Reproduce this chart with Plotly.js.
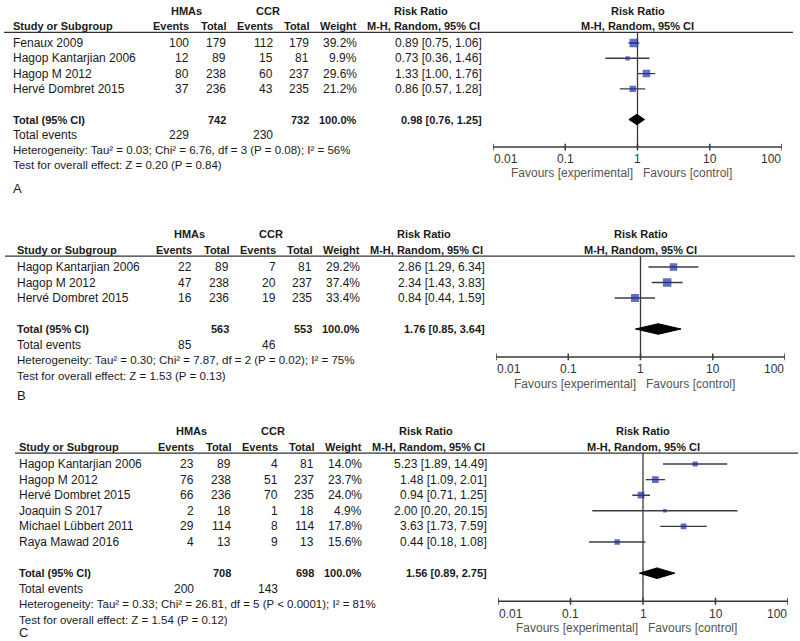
<!DOCTYPE html>
<html><head><meta charset="utf-8">
<script src="https://cdn.plot.ly/plotly-3.0.1.min.js"></script>
<style>html,body{margin:0;padding:0;background:#fff}#chart{width:800px;height:641px}</style>
</head><body><div id="chart"></div>
<script>
// ---------- DATA ----------
const tickValues = [0.01, 0.1, 1, 10, 100];
const tickLabels = ['0.01', '0.1', '1', '10', '100'];

// Panel A
const A_studies   = ['Fenaux 2009', 'Hagop Kantarjian 2006', 'Hagop M 2012', 'Hervé Dombret 2015'];
const A_hmaEvents = [100, 12, 80, 37];
const A_hmaTotal  = [179, 89, 238, 236];
const A_ccrEvents = [112, 15, 60, 43];
const A_ccrTotal  = [179, 81, 237, 235];
const A_weight    = [39.2, 9.9, 29.6, 21.2];
const A_rr        = [0.89, 0.73, 1.33, 0.86];
const A_lo        = [0.75, 0.36, 1.00, 0.57];
const A_hi        = [1.06, 1.46, 1.76, 1.28];
const A_total     = {hmaTotal: 742, ccrTotal: 732, hmaEvents: 229, ccrEvents: 230, rr: 0.98, lo: 0.76, hi: 1.25};
const A_het       = 'Heterogeneity: Tau² = 0.03; Chi² = 6.76, df = 3 (P = 0.08); I² = 56%';
const A_test      = 'Test for overall effect: Z = 0.20 (P = 0.84)';

// Panel B
const B_studies   = ['Hagop Kantarjian 2006', 'Hagop M 2012', 'Hervé Dombret 2015'];
const B_hmaEvents = [22, 47, 16];
const B_hmaTotal  = [89, 238, 236];
const B_ccrEvents = [7, 20, 19];
const B_ccrTotal  = [81, 237, 235];
const B_weight    = [29.2, 37.4, 33.4];
const B_rr        = [2.86, 2.34, 0.84];
const B_lo        = [1.29, 1.43, 0.44];
const B_hi        = [6.34, 3.83, 1.59];
const B_total     = {hmaTotal: 563, ccrTotal: 553, hmaEvents: 85, ccrEvents: 46, rr: 1.76, lo: 0.85, hi: 3.64};
const B_het       = 'Heterogeneity: Tau² = 0.30; Chi² = 7.87, df = 2 (P = 0.02); I² = 75%';
const B_test      = 'Test for overall effect: Z = 1.53 (P = 0.13)';

// Panel C
const C_studies   = ['Hagop Kantarjian 2006', 'Hagop M 2012', 'Hervé Dombret 2015', 'Joaquin S 2017', 'Michael Lübbert 2011', 'Raya Mawad 2016'];
const C_hmaEvents = [23, 76, 66, 2, 29, 4];
const C_hmaTotal  = [89, 238, 236, 18, 114, 13];
const C_ccrEvents = [4, 51, 70, 1, 8, 9];
const C_ccrTotal  = [81, 237, 235, 18, 114, 13];
const C_weight    = [14.0, 23.7, 24.0, 4.9, 17.8, 15.6];
const C_rr        = [5.23, 1.48, 0.94, 2.00, 3.63, 0.44];
const C_lo        = [1.89, 1.09, 0.71, 0.20, 1.73, 0.18];
const C_hi        = [14.49, 2.01, 1.25, 20.15, 7.59, 1.08];
const C_total     = {hmaTotal: 708, ccrTotal: 698, hmaEvents: 200, ccrEvents: 143, rr: 1.56, lo: 0.89, hi: 2.75};
const C_het       = 'Heterogeneity: Tau² = 0.33; Chi² = 26.81, df = 5 (P < 0.0001); I² = 81%';
const C_test      = 'Test for overall effect: Z = 1.54 (P = 0.12)';

// ---------- LAYOUT / DRAWING ----------
const W = 800, H = 641;
const FONT = '"Liberation Sans", Arial, Helvetica, sans-serif';
const TXT = '#1a1a1a';
const BLUE = '#1f30a8';

const panels = [
  {label: 'A', studies: A_studies, he: A_hmaEvents, ht: A_hmaTotal, ce: A_ccrEvents, ct: A_ccrTotal, w: A_weight, rr: A_rr, lo: A_lo, hi: A_hi, tot: A_total, het: A_het, test: A_test,
   g: {y0: 43, s: 15.3, top: -2.8, bot: 10, dx: 0, nx: 12, ax0: 493, ax1: 782, ul0: 4, ul1: 793, lab: 5.5}},
  {label: 'B', studies: B_studies, he: B_hmaEvents, ht: B_hmaTotal, ce: B_ccrEvents, ct: B_ccrTotal, w: B_weight, rr: B_rr, lo: B_lo, hi: B_hi, tot: B_total, het: B_het, test: B_test,
   g: {y0: 267, s: 15.5, top: -3, bot: 9, dx: 3, nx: 16, ax0: 496, ax1: 785, ul0: 5, ul1: 795, lab: 5.3}},
  {label: 'C', studies: C_studies, he: C_hmaEvents, ht: C_hmaTotal, ce: C_ccrEvents, ct: C_ccrTotal, w: C_weight, rr: C_rr, lo: C_lo, hi: C_hi, tot: C_total, het: C_het, test: C_test,
   g: {y0: 464, s: 15.6, top: -3, bot: 11.2, dx: 5, nx: 18, ax0: 498, ax1: 788, ul0: 15, ul1: 798, lab: 4.78}}
];

const traces = [];
const annotations = [];
const shapes = [];
const layout = {
  width: W, height: H,
  margin: {l: 0, r: 0, t: 0, b: 0},
  paper_bgcolor: '#ffffff', plot_bgcolor: 'rgba(0,0,0,0)',
  showlegend: false,
  font: {family: FONT, size: 12, color: TXT},
  annotations: annotations, shapes: shapes
};

function fmt1(v) { return v.toFixed(1) + '%'; }
function fmt2(v) { return v.toFixed(2); }
function ci(r, l, h) { return fmt2(r) + ' [' + fmt2(l) + ', ' + fmt2(h) + ']'; }

panels.forEach((p, k) => {
  const g = p.g;
  const sfx = k === 0 ? '' : String(k + 1);
  const xa = 'x' + sfx, ya = 'y' + sfx;
  const n = p.studies.length;
  const totIdx = n + 1, evIdx = n + 2, hetIdx = n + 3, testIdx = n + 4;
  const axIdx = n + 2.8;
  const dx = g.dx;

  layout['xaxis' + sfx] = {
    domain: [g.ax0 / W, g.ax1 / W], type: 'log', range: [-2, 2], anchor: ya,
    showgrid: false, zeroline: false, showline: false, showticklabels: false, ticks: '', fixedrange: true
  };
  layout['yaxis' + sfx] = {
    domain: [1 - (g.y0 + g.bot * g.s) / H, 1 - (g.y0 + g.top * g.s) / H],
    range: [g.bot, g.top], anchor: xa,
    showgrid: false, zeroline: false, showline: false, showticklabels: false, ticks: '', fixedrange: true
  };

  const px = v => (v + dx) / W;
  function txt(x, y, text, anchor, size, bold, color, xref) {
    annotations.push({
      xref: xref || 'paper', yref: ya, x: x, y: y, text: bold ? '<b>' + text + '</b>' : text,
      showarrow: false, xanchor: anchor, yanchor: 'middle', borderpad: 0,
      font: {family: FONT, size: size, color: color || TXT}
    });
  }

  // headers
  txt(px(186), -2.1, 'HMAs', 'center', 11, true);
  txt(px(268), -2.1, 'CCR', 'center', 11, true);
  txt(px(421), -2.1, 'Risk Ratio', 'center', 11, true);
  txt(g.nx / W, -1.1, 'Study or Subgroup', 'left', 11, true);
  txt(px(190), -1.1, 'Events', 'right', 11, true);
  txt(px(227), -1.1, 'Total', 'right', 11, true);
  txt(px(274), -1.1, 'Events', 'right', 11, true);
  txt(px(310), -1.1, 'Total', 'right', 11, true);
  txt(px(358), -1.1, 'Weight', 'right', 11, true);
  txt(px(423), -1.1, 'M-H, Random, 95% CI', 'center', 11, true);
  txt(0, -2.1, 'Risk Ratio', 'center', 11, true, TXT, xa);
  txt(0, -1.1, 'M-H, Random, 95% CI', 'center', 11, true, TXT, xa);

  // header underline
  shapes.push({type: 'line', xref: 'paper', yref: ya, x0: g.ul0 / W, x1: g.ul1 / W, y0: -0.7, y1: -0.7,
    line: {color: '#333333', width: 1.3}});

  // study rows
  p.studies.forEach((s, i) => {
    txt(g.nx / W, i, s, 'left', 12, false);
    txt(px(190), i, String(p.he[i]), 'right', 12, false);
    txt(px(227), i, String(p.ht[i]), 'right', 12, false);
    txt(px(274), i, String(p.ce[i]), 'right', 12, false);
    txt(px(310), i, String(p.ct[i]), 'right', 12, false);
    txt(px(358), i, fmt1(p.w[i]), 'right', 12, false);
    txt(px(483), i, ci(p.rr[i], p.lo[i], p.hi[i]), 'right', 12, false);
  });

  // total rows
  txt(g.nx / W, totIdx, 'Total (95% CI)', 'left', 11, true);
  txt(px(227), totIdx, String(p.tot.hmaTotal), 'right', 11, true);
  txt(px(310), totIdx, String(p.tot.ccrTotal), 'right', 11, true);
  txt(px(358), totIdx, '100.0%', 'right', 11, true);
  txt(px(483), totIdx, ci(p.tot.rr, p.tot.lo, p.tot.hi), 'right', 11, true);
  txt(g.nx / W, evIdx, 'Total events', 'left', 12, false);
  txt(px(190), evIdx, String(p.tot.hmaEvents), 'right', 12, false);
  txt(px(274), evIdx, String(p.tot.ccrEvents), 'right', 12, false);
  txt(g.nx / W, hetIdx, p.het, 'left', 11.5, false);
  txt(g.nx / W, testIdx, p.test, 'left', 11.5, false);
  txt((g.nx) / W, n + g.lab, p.label, 'left', 13, false);

  // forest: vertical line of no effect
  traces.push({type: 'scatter', mode: 'lines', xaxis: xa, yaxis: ya, x: [1, 1], y: [-0.7, axIdx],
    line: {color: '#3a3a3a', width: 1.3}, hoverinfo: 'skip'});
  // axis line
  traces.push({type: 'scatter', mode: 'lines', xaxis: xa, yaxis: ya,
    x: [tickValues[0], tickValues[tickValues.length - 1]], y: [axIdx, axIdx],
    line: {color: '#3a3a3a', width: 1.5}, hoverinfo: 'skip'});
  // ticks
  const tx = [], ty = [];
  tickValues.forEach(t => { tx.push(t, t, null); ty.push(axIdx - 0.22, axIdx + 0.22, null); });
  traces.push({type: 'scatter', mode: 'lines', xaxis: xa, yaxis: ya, x: tx, y: ty,
    line: {color: '#3a3a3a', width: 1.5}, hoverinfo: 'skip'});
  tickValues.forEach((t, j) => {
    const anc = j === 0 ? 'left' : (j === tickValues.length - 1 ? 'right' : 'center');
    txt(Math.log10(t), axIdx + 0.8, tickLabels[j], anc, 12, false, '#333333', xa);
  });
  // favours
  annotations.push({xref: xa, yref: ya, x: 0, y: axIdx + 1.72, text: 'Favours [experimental]', showarrow: false,
    xanchor: 'right', yanchor: 'middle', xshift: -4, borderpad: 0, font: {family: FONT, size: 12, color: '#555555'}});
  annotations.push({xref: xa, yref: ya, x: 0, y: axIdx + 1.72, text: 'Favours [control]', showarrow: false,
    xanchor: 'left', yanchor: 'middle', xshift: 4, borderpad: 0, font: {family: FONT, size: 12, color: '#555555'}});

  // CI lines
  const cx = [], cy = [];
  p.rr.forEach((r, i) => { cx.push(p.lo[i], p.hi[i], null); cy.push(i, i, null); });
  traces.push({type: 'scatter', mode: 'lines', xaxis: xa, yaxis: ya, x: cx, y: cy,
    line: {color: '#3c3c3c', width: 1.4}, hoverinfo: 'skip'});
  // squares
  traces.push({type: 'scatter', mode: 'markers', xaxis: xa, yaxis: ya, x: p.rr, y: p.studies.map((s, i) => i),
    marker: {symbol: 'square', color: BLUE, size: p.w.map(v => Math.max(3.5, 1.38 * Math.sqrt(v))), line: {width: 0}},
    hoverinfo: 'skip'});
  // diamond
  const t = p.tot;
  traces.push({type: 'scatter', mode: 'lines', xaxis: xa, yaxis: ya,
    x: [t.lo, t.rr, t.hi, t.rr, t.lo], y: [totIdx, totIdx - 0.34, totIdx, totIdx + 0.34, totIdx],
    fill: 'toself', fillcolor: '#000000', line: {color: '#000000', width: 1}, hoverinfo: 'skip'});
});

Plotly.newPlot('chart', traces, layout, {staticPlot: true, displayModeBar: false});
</script>
</body></html>
